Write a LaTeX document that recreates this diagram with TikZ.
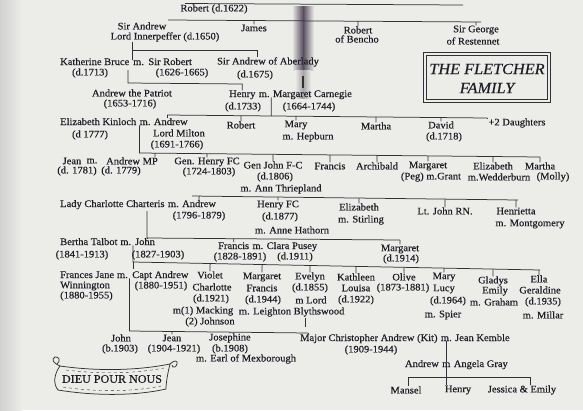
\documentclass[tikz,border=0pt]{standalone}
\usepackage{fontspec}
\setmainfont{Liberation Serif}[FakeBold=0.4, FakeStretch=1.05]
\usetikzlibrary{calc}
\definecolor{bgc}{RGB}{236,236,233}
\definecolor{ink}{RGB}{30,28,36}
\definecolor{lnc}{RGB}{50,48,54}
\definecolor{smudge}{RGB}{88,78,95}
\newcommand\famkid[3]{\draw[ln] (#1.north) -- ($(#2)!(#1.north)!(#3)$);}
\tikzset{
  t/.style={font=\fontsize{10}{11}\selectfont, text=ink, inner sep=0pt},
  ln/.style={draw=lnc, line width=0.75pt},
  ttl/.style={font=\fontsize{15.5}{16}\selectfont\itshape, text=ink, inner sep=0pt}
}
\begin{document}
\begin{tikzpicture}[x=1pt,y=-1pt]
\useasboundingbox (0,0) rectangle (583,410);
\fill[bgc] (0,0) rectangle (583,410);
\shade[left color=black!18, right color=bgc] (0,0) rectangle (22,410);
% scan smudge
\shade[left color=bgc, right color=bgc, middle color=smudge] (292,6) rectangle (314,70);
\shade[left color=bgc, right color=bgc, middle color=black!35] (295,70) rectangle (311,98);
\draw[lnc, line width=1.2pt] (303,76) -- (303,88);

% ---------- generation 1
\node[t] (robert) at (214,9) {Robert (d.1622)};
\draw[ln] (185,3.5) -- (463,5);

% ---------- generation 2
\coordinate (L1a) at (168,20);
\coordinate (L1b) at (481,22);
\draw[ln] (L1a) -- (L1b);
\node[t] (sirandrew) at (142,26) {Sir Andrew};
\node[t] (innerpeffer) at (165,37) {Lord Innerpeffer (d.1650)};
\node[t] (james) at (254,28) {James};
\node[t] (robbencho) at (358,30) {Robert};
\node[t] (bencho) at (357,39) {of Bencho};
\node[t] (sirgeorge) at (476,30) {Sir George};
\node[t] (restennet) at (473,41) {of Restennet};
\famkid{james}{L1a}{L1b}
\famkid{robbencho}{L1a}{L1b}
\famkid{sirgeorge}{L1a}{L1b}

% title box
\draw[ln] (423,52) rectangle (550,102);
\draw[ln, line width=0.5pt] (426,55) rectangle (547,99);
\node[ttl] (title1) at (487,69) {THE FLETCHER};
\node[ttl] (title2) at (487,88) {FAMILY};

% ---------- generation 3
\node[t, anchor=base west] (kb) at (60,65) {Katherine Bruce};
\node[t, anchor=base west] (kbm) at ($(kb.base east)+(3.5,0)$) {m.};
\node[t, anchor=base west] (sirrobert) at ($(kbm.base east)+(4,0)$) {Sir Robert};
\node[t] (kbd) at (90,73) {(d.1713)};
\node[t] (srd) at (182,73) {(1626-1665)};
\node[t] (aberlady) at (268,62) {Sir Andrew of Aberlady};
\node[t] (aberladyd) at (255,75) {(d.1675)};
\coordinate (L2a) at ($(kbm.north west)+(-1,0)$);
\coordinate (L2b) at (257,50);
\draw[ln] (L2a |- innerpeffer.south) -- (L2a);
\draw[ln] (L2a |- L2b) -- (L2b) -- (L2b |- aberlady.north);

% ---------- generation 4
\coordinate (L3a) at (128,83);
\node[t, anchor=base west] (henry) at (229,97) {Henry};
\node[t, anchor=base west] (hm) at ($(henry.base east)+(3,0)$) {m.};
\node[t, anchor=base west] (carnegie) at ($(hm.base east)+(3,0)$) {Margaret Carnegie};
\coordinate (L3b) at (henry.north |- 0,84);
\draw[ln] (128,70) -- (L3a) -- (L3b) -- (henry.north);
\node[t] (patriot) at (132,93) {Andrew the Patriot};
\node[t] (patriotd) at (130,104) {(1653-1716)};
\node[t] (henryd) at (243,107) {(d.1733)};
\node[t] (carnegied) at (309,107) {(1664-1744)};

% ---------- generation 5
\coordinate (L4a) at (167,115);
\coordinate (L4b) at (487,118);
\draw[ln] (L4a) -- (L4b);
\coordinate (hv) at ($(hm.south east)+(1.5,0)$);
\draw[ln] (hv) -- ($(L4a)!(hv)!(L4b)$);
\node[t, anchor=base west] (ek) at (60,125) {Elizabeth Kinloch};
\node[t, anchor=base west] (ekm) at ($(ek.base east)+(3,0)$) {m.};
\node[t, anchor=base west] (milton) at ($(ekm.base east)+(3,0)$) {Andrew};
\node[t] (ekd) at (90,135) {(d 1777)};
\node[t] (lordmilton) at (179,133) {Lord Milton};
\node[t] (miltond) at (177,145) {(1691-1766)};
\node[t] (robert2) at (241,125) {Robert};
\node[t] (mary) at (296,125) {Mary};
\node[t] (maryh) at (308,137) {m. Hepburn};
\node[t] (martha) at (376,126) {Martha};
\node[t] (david) at (441,125) {David};
\node[t] (davidd) at (444,137) {(d.1718)};
\node[t] (daughters) at (517,123) {+2 Daughters};
\draw[ln] (L4a) -- (L4a |- milton.north);
\famkid{robert2}{L4a}{L4b}
\famkid{mary}{L4a}{L4b}
\famkid{martha}{L4a}{L4b}
\famkid{david}{L4a}{L4b}
\draw[ln] (L4b) -- (L4b |- daughters.north);

% ---------- generation 6
\coordinate (L5a) at (ekm.south west |- 0,153);
\coordinate (L5b) at (540,157);
\draw[ln] (ekm.south west) -- (L5a) -- (L5b);
\node[t] (jean) at (72,161) {Jean};
\node[t] (jeanm) at (92,161) {m.};
\node[t] (andrewmp) at (132,161) {Andrew MP};
\node[t] (jeand) at (77,171) {(d. 1781)};
\node[t] (mpd) at (121,171) {(d. 1779)};
\node[t] (henryfc) at (207,162) {Gen. Henry FC};
\node[t] (henryfcd) at (209,172) {(1724-1803)};
\node[t] (johnfc) at (273,165) {Gen John F-C};
\node[t] (johnfcd) at (275,177) {(d.1806)};
\node[t] (johnfcm) at (281,189) {m. Ann Thriepland};
\node[t] (francis) at (330,166) {Francis};
\node[t] (archibald) at (377,166) {Archibald};
\node[t] (margaret) at (428,166) {Margaret};
\node[t] (margaretm) at (431,177) {(Peg) m.Grant};
\node[t] (elizabeth) at (493,166) {Elizabeth};
\node[t] (elizabethm) at (499,177) {m.Wedderburn};
\node[t] (martha2) at (540,166) {Martha};
\node[t] (molly) at (553,177) {(Molly)};
\coordinate (mptop) at ($(andrewmp.north east)+(-3,0)$);
\draw[ln] (mptop) -- ($(L5a)!(mptop)!(L5b)$);
\famkid{henryfc}{L5a}{L5b}
\famkid{johnfc}{L5a}{L5b}
\famkid{francis}{L5a}{L5b}
\famkid{archibald}{L5a}{L5b}
\famkid{margaret}{L5a}{L5b}
\famkid{elizabeth}{L5a}{L5b}
\famkid{martha2}{L5a}{L5b}

% ---------- generation 7
\coordinate (L6a) at (192,196);
\coordinate (L6b) at (518,200);
\draw[ln] (L6a) -- (L6b);
\node[t, anchor=base west] (lc) at (60,207) {Lady Charlotte Charteris};
\node[t, anchor=base west] (lcm) at ($(lc.base east)+(3,0)$) {m.};
\node[t, anchor=base west] (andrew7) at ($(lcm.base east)+(3,0)$) {Andrew};
\node[t] (andrew7d) at (199,216) {(1796-1879)};
\node[t] (henryfc2) at (278,205) {Henry FC};
\node[t] (henryfc2d) at (280,217) {(d.1877)};
\node[t] (hathorn) at (292,230) {m. Anne Hathorn};
\node[t] (elizabeth2) at (359,207) {Elizabeth};
\node[t] (stirling) at (361,220) {m. Stirling};
\node[t] (ltjohn) at (445,211) {Lt. John RN.};
\node[t] (henrietta) at (516,211) {Henrietta};
\node[t] (montgomery) at (530,224) {m. Montgomery};
\famkid{andrew7}{L6a}{L6b}
\famkid{henryfc2}{L6a}{L6b}
\famkid{elizabeth2}{L6a}{L6b}
\famkid{ltjohn}{L6a}{L6b}
\famkid{henrietta}{L6a}{L6b}

% ---------- generation 8
\coordinate (L7a) at (147,238);
\coordinate (L7b) at (400,240);
\draw[ln] (147,211) -- (L7a) -- (L7b);
\node[t, anchor=base west] (bertha) at (60,245) {Bertha Talbot};
\node[t, anchor=base west] (berm) at ($(bertha.base east)+(2.5,0)$) {m.};
\node[t, anchor=base west] (john8) at ($(berm.base east)+(3.5,0)$) {John};
\node[t] (berthad) at (82,255) {(1841-1913)};
\node[t] (john8d) at (158,255) {(1827-1903)};
\node[t, anchor=base west] (francis8) at (218,249) {Francis};
\node[t, anchor=base west] (fm) at ($(francis8.base east)+(3,0)$) {m.};
\node[t, anchor=base west] (clara) at ($(fm.base east)+(3,0)$) {Clara Pusey};
\node[t] (francis8d) at (240,257) {(1828-1891)};
\node[t] (clarad) at (295,257) {(d.1911)};
\node[t] (margaret8) at (400,249) {Margaret};
\node[t] (margaret8d) at (401,259) {(d.1914)};
\draw[ln] (L7a) -- (L7a |- john8.north);
\famkid{francis8}{L7a}{L7b}
\famkid{margaret8}{L7a}{L7b}

% ---------- generation 9
\coordinate (bv) at ($(berm.south east)+(1.5,0)$);
\coordinate (L8a) at (bv |- 0,262);
\coordinate (L8b) at (540,270);
\draw[ln] (bv) -- (L8a) -- (L8b);
\draw[ln] (L8a) -- ++(0,7);
\node[t, anchor=base west] (fj) at (60,278) {Frances Jane};
\node[t, anchor=base west] (fjm) at ($(fj.base east)+(2.5,0)$) {m.};
\node[t, anchor=base west] (captandrew) at ($(fjm.base east)+(4,0)$) {Capt Andrew};
\node[t, anchor=west] (winnington) at (60,286) {Winnington};
\node[t, anchor=west] (fjd) at (60,296) {(1880-1955)};
\node[t] (captd) at (161,286) {(1880-1951)};
\node[t] (violet) at (210,275) {Violet};
\node[t] (charlotte) at (212,287) {Charlotte};
\node[t] (violetd) at (211,299) {(d.1921)};
\node[t] (macking) at (203,311) {m(1) Macking};
\node[t] (johnson) at (210,322) {(2) Johnson};
\node[t] (margaret9) at (262,277) {Margaret};
\node[t] (francis9) at (262,288) {Francis};
\node[t] (margaret9d) at (263,300) {(d.1944)};
\node[t] (leighton) at (265,312) {m. Leighton};
\node[t] (evelyn) at (310,277) {Evelyn};
\node[t] (evelynd) at (310,288) {(d.1855)};
\node[t] (evelynm) at (311,300) {m Lord};
\node[t] (blyth) at (319,312) {Blythswood};
\node[t] (kathleen) at (356,277) {Kathleen};
\node[t] (louisa) at (356,288) {Louisa};
\node[t] (kathleend) at (356,300) {(d.1922)};
\node[t] (olive) at (404,277) {Olive};
\node[t] (olived) at (403,288) {(1873-1881)};
\node[t] (mary9) at (444,277) {Mary};
\node[t] (lucy) at (444,289) {Lucy};
\node[t] (maryd) at (448,301) {(d.1964)};
\node[t] (spier) at (443,315) {m. Spier};
\node[t] (gladys) at (493,281) {Gladys};
\node[t] (emily) at (495,291) {Emily};
\node[t] (graham) at (494,302) {m. Graham};
\node[t] (ella) at (539,279) {Ella};
\node[t] (geraldine) at (540,290) {Geraldine};
\node[t] (ellad) at (543,302) {(d.1935)};
\node[t] (millar) at (543,315) {m. Millar};
\famkid{violet}{L8a}{L8b}
\famkid{margaret9}{L8a}{L8b}
\famkid{evelyn}{L8a}{L8b}
\famkid{kathleen}{L8a}{L8b}
\famkid{olive}{L8a}{L8b}
\famkid{mary9}{L8a}{L8b}
\famkid{gladys}{L8a}{L8b}
\famkid{ella}{L8a}{L8b}
\draw[ln] (305,318) -- (305,327);

% ---------- generation 10
\coordinate (fv) at ($(fjm.south east)+(1.5,0)$);
\coordinate (L9a) at (fv |- 0,331);
\coordinate (L9b) at (308,333);
\draw[ln] (fv) -- (L9a) -- (L9b);
\node[t] (john10) at (121,338) {John};
\node[t] (john10d) at (120,349) {(b.1903)};
\node[t] (jean10) at (172,338) {Jean};
\node[t] (jean10d) at (174,349) {(1904-1921)};
\node[t] (josephine) at (230,338) {Josephine};
\node[t] (josephined) at (230,349) {(b.1908)};
\node[t] (mexborough) at (246,359) {m. Earl of Mexborough};
\node[t, anchor=base west] (kit) at (300,341) {Major Christopher Andrew (Kit)};
\node[t, anchor=base west] (kitm) at ($(kit.base east)+(3,0)$) {m.};
\node[t, anchor=base west] (kemble) at ($(kitm.base east)+(3,0)$) {Jean Kemble};
\node[t] (kitd) at (371,350) {(1909-1944)};
\famkid{jean10}{L9a}{L9b}
\famkid{josephine}{L9a}{L9b}
\draw[ln] (L9b) -- (L9b |- kit.north);

% ---------- generation 11
\node[t, anchor=base] (a11m) at (kitm.base |- 0,367) {m};
\node[t, anchor=base east] (andrew11) at ($(a11m.base west)+(-3,0)$) {Andrew};
\node[t, anchor=base west] (angela) at ($(a11m.base east)+(3,0)$) {Angela Gray};
\draw[ln] (kitm.south) -- (a11m.north);
\coordinate (L10m) at (a11m.south |- 0,377);
\coordinate (L10a) at (408,377);
\coordinate (L10b) at (530,377);
\draw[ln] (a11m.south) -- (L10m);
\draw[ln] (L10a) -- (L10b);
\node[t] (mansel) at (406,390) {Mansel};
\node[t] (henry11) at (458,390) {Henry};
\node[t] (jessica) at (522,390) {Jessica \& Emily};
\draw[ln] (L10a) -- (L10a |- mansel.north);
\draw[ln] (L10m) -- (L10m |- henry11.north);
\draw[ln] (L10b) -- (L10b |- jessica.north);

% ---------- motto banner
\draw[ln] (60,366) .. controls (95,371) and (135,371) .. (170,364);
\draw[ln] (58,390) .. controls (95,396) and (135,396) .. (166,389);
\draw[ln] (60,366) .. controls (54,374) and (53,384) .. (58,390);
\draw[ln] (170,364) .. controls (168,372) and (166,382) .. (166,389);
\draw[ln] (60,366) .. controls (53,363) and (51,359) .. (55,357) .. controls (59,356) and (61,361) .. (57,364);
\draw[ln] (170,364) .. controls (174,360) and (178,360) .. (177,364) .. controls (176,368) and (172,368) .. (172,365);
\draw[lnc, line width=0.4pt, dash pattern=on 3pt off 3pt] (66,370) .. controls (98,374) and (132,374) .. (164,368);
\draw[lnc, line width=0.4pt, dash pattern=on 3pt off 3pt] (63,387) .. controls (95,392) and (132,392) .. (161,386);
\node[t, font=\fontsize{11.5}{12}\selectfont] (motto) at (112,379) {DIEU POUR NOUS};
\end{tikzpicture}
\end{document}
